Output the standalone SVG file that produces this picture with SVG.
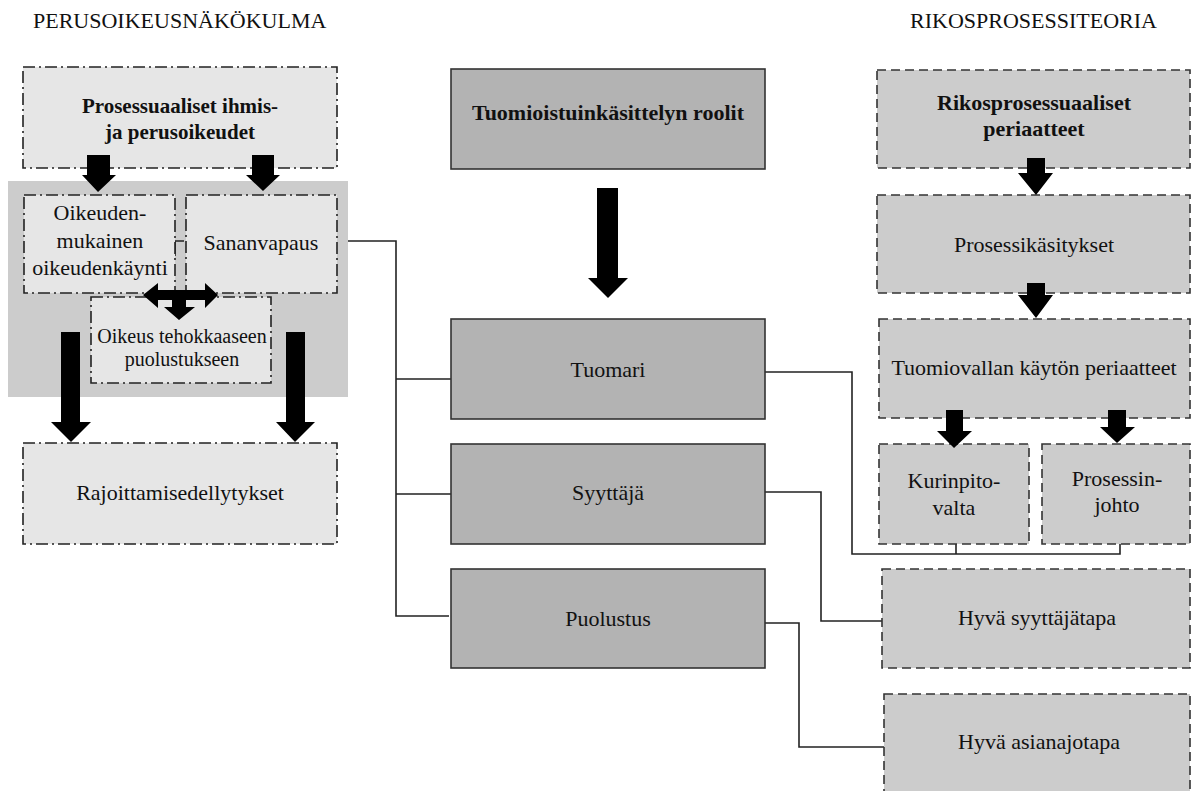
<svg xmlns="http://www.w3.org/2000/svg" width="1192" height="791" viewBox="0 0 1192 791">
<style>
text{font-family:"Liberation Serif","Times New Roman",serif;font-size:22px;fill:#111;text-anchor:middle}
.b{font-weight:bold}
.s21{font-size:21px}
.hdr{text-anchor:start}
.lt{fill:#e6e6e6;stroke:#222;stroke-width:1.6;stroke-dasharray:12 4 2 4}
.ct{fill:#b3b3b3;stroke:#333;stroke-width:1.6}
.rt{fill:#cccccc;stroke:#333;stroke-width:1.6;stroke-dasharray:9 5}
.ln{fill:none;stroke:#222;stroke-width:1.6}
.ar{fill:#000}
</style>
<rect width="1192" height="791" fill="#fff"/>
<text class="hdr" x="33" y="28">PERUSOIKEUSNÄKÖKULMA</text>
<text class="hdr" x="910" y="28">RIKOSPROSESSITEORIA</text>
<rect x="8" y="181" width="340" height="216" fill="#cccccc"/>
<g id="connectors">
<path class="ln" d="M348,241 H396 V616 H449 M396,379 H451 M396,494 H451"/>
<path class="ln" d="M175,241 H184 M175,241 V256"/>
<path class="ln" d="M765,372 H852 V554 H1120 V544 M956,554 V544"/>
<path class="ln" d="M765,492 H821 V621 H882"/>
<path class="ln" d="M765,623 H799 V747 H884"/>
</g>
<g id="n-prosessuaaliset">
<rect class="lt" x="23" y="67" width="314" height="101"/>
<text class="b s21" x="180" y="113">Prosessuaaliset ihmis-</text>
<text class="b s21" x="180" y="139">ja perusoikeudet</text>
</g>
<g id="n-oikeudenmukainen">
<rect class="lt" x="24" y="195" width="151" height="98"/>
<text x="100" y="220">Oikeuden-</text>
<text x="100" y="248">mukainen</text>
<text x="100" y="275">oikeudenkäynti</text>
</g>
<g id="n-sananvapaus">
<rect class="lt" x="186" y="195" width="151" height="98"/>
<text x="261" y="250">Sananvapaus</text>
</g>
<g id="n-oikeus">
<rect class="lt" x="91" y="297" width="180" height="86"/>
<text x="182" y="343" style="font-size:20px">Oikeus tehokkaaseen</text>
<text x="182" y="366" style="font-size:20px">puolustukseen</text>
</g>
<g id="n-rajoittamis">
<rect class="lt" x="23" y="443" width="314" height="101"/>
<text x="180" y="500">Rajoittamisedellytykset</text>
</g>
<g id="n-roolit">
<rect class="ct" x="451" y="69" width="314" height="100"/>
<text class="b" x="608" y="120">Tuomioistuinkäsittelyn roolit</text>
</g>
<g id="n-tuomari">
<rect class="ct" x="451" y="319" width="314" height="100"/>
<text x="608" y="377">Tuomari</text>
</g>
<g id="n-syyttaja">
<rect class="ct" x="451" y="444" width="314" height="100"/>
<text x="608" y="500">Syyttäjä</text>
</g>
<g id="n-puolustus">
<rect class="ct" x="451" y="569" width="314" height="99"/>
<text x="608" y="626">Puolustus</text>
</g>
<g id="n-rikosperiaatteet">
<rect class="rt" x="877" y="70" width="313" height="98"/>
<text class="b" x="1034" y="110">Rikosprosessuaaliset</text>
<text class="b" x="1034" y="136">periaatteet</text>
</g>
<g id="n-prosessikasitykset">
<rect class="rt" x="877" y="195" width="313" height="98"/>
<text x="1034" y="252">Prosessikäsitykset</text>
</g>
<g id="n-tuomiovalta">
<rect class="rt" x="879" y="319" width="311" height="99"/>
<text x="1034" y="375">Tuomiovallan käytön periaatteet</text>
</g>
<g id="n-kurinpito">
<rect class="rt" x="879" y="444" width="150" height="100"/>
<text x="954" y="488">Kurinpito-</text>
<text x="954" y="515">valta</text>
</g>
<g id="n-prosessinjohto">
<rect class="rt" x="1042" y="444" width="148" height="100"/>
<text x="1117" y="486">Prosessin-</text>
<text x="1117" y="512">johto</text>
</g>
<g id="n-syyttajatapa">
<rect class="rt" x="882" y="569" width="308" height="99"/>
<text x="1037" y="625">Hyvä syyttäjätapa</text>
</g>
<g id="n-asianajotapa">
<rect class="rt" x="884" y="694" width="306" height="110"/>
<text x="1039" y="749">Hyvä asianajotapa</text>
</g>
<g id="arrows">
<polygon class="ar" points="87,155 110,155 110,175 116,175 98,192 82,175 87,175"/>
<polygon class="ar" points="252,155 274,155 274,175 280,175 263,191 246,175 252,175"/>
<polygon class="ar" points="143,295 158,283 158,290 205,290 205,283 218,295 205,308 205,300 186,300 186,307 195,307 179,320 164,307 172,307 172,300 158,300 158,308"/>
<polygon class="ar" points="61,332 80,332 80,422 91,422 71,442 51,422 61,422"/>
<polygon class="ar" points="286,332 305,332 305,422 315,422 295,442 276,422 286,422"/>
<polygon class="ar" points="597,188 618,188 618,278 628,278 608,298 588,278 597,278"/>
<polygon class="ar" points="1027,158 1045,158 1045,173 1053,173 1036,195 1018,173 1027,173"/>
<polygon class="ar" points="1027,283 1045,283 1045,295 1053,295 1036,318 1018,295 1027,295"/>
<polygon class="ar" points="946,410 963,410 963,431 972,431 954,448 937,431 946,431"/>
<polygon class="ar" points="1108,410 1126,410 1126,427 1135,427 1117,443 1100,427 1108,427"/>
</g>
</svg>
